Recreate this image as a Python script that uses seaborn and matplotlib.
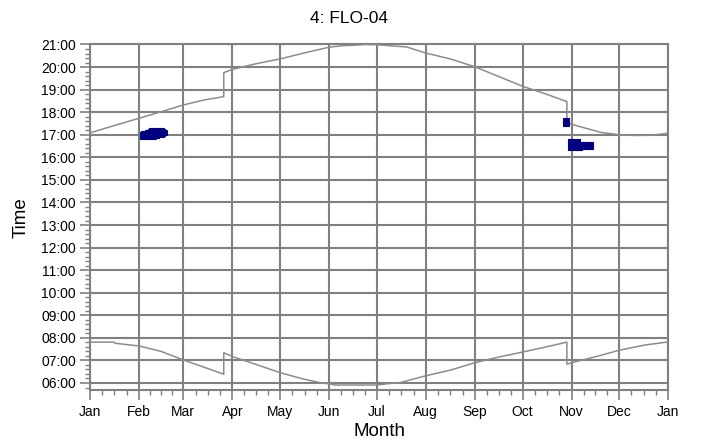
import matplotlib
matplotlib.use('Agg')
from matplotlib import pyplot as plt
import matplotlib.ticker as plticker
import seaborn as sns
import pandas as pd
import numpy as np

# day of year (Jan 1 = 0) and time of day in hours
sunset_day = [0, 16, 31, 45, 59, 72, 84.5, 84.5, 90, 105, 120, 135, 151, 160, 168, 173, 181,
              190, 200, 212, 228, 243, 258, 273, 288, 301, 301, 304, 315, 322, 334, 345, 355, 365]
sunset_hr = [17.08, 17.42, 17.73, 18.02, 18.32, 18.54, 18.69, 19.75, 19.90, 20.15, 20.36, 20.62,
             20.88, 20.95, 20.97, 21.0, 20.99, 20.94, 20.89, 20.62, 20.35, 20.01, 19.58, 19.15,
             18.80, 18.47, 17.55, 17.46, 17.25, 17.11, 17.0, 16.97, 16.98, 17.07]

sunrise_day = [0, 15, 16, 31, 45, 59, 72, 84.5, 84.5, 90, 105, 120, 135, 145, 151, 155, 181,
               188, 196, 212, 228, 243, 258, 273, 288, 301, 301, 304, 320, 334, 350, 365]
sunrise_hr = [7.81, 7.81, 7.76, 7.64, 7.40, 7.02, 6.70, 6.39, 7.34, 7.17, 6.82, 6.46, 6.17, 6.02,
              5.96, 5.91, 5.91, 5.97, 6.02, 6.32, 6.58, 6.90, 7.15, 7.37, 7.60, 7.81, 6.83, 6.90,
              7.18, 7.45, 7.68, 7.82]

# shadow periods: per day start / end time (hours)
shadow_day = list(range(32, 49)) + list(range(299, 303)) + list(range(302, 318))
shadow_start = [16.82, 16.82, 16.82, 16.82, 16.82, 16.82, 16.82, 16.82, 16.82, 16.82, 16.84,
                16.86, 16.88, 16.90, 16.92, 16.96, 17.00,
                17.40, 17.40, 17.40, 17.40,
                16.33, 16.33, 16.33, 16.33, 16.33, 16.33, 16.33, 16.33, 16.33,
                16.37, 16.37, 16.37, 16.37, 16.37, 16.37, 16.37]
shadow_end = [17.12, 17.15, 17.17, 17.20, 17.22, 17.25, 17.28, 17.30, 17.32, 17.32, 17.32,
              17.32, 17.31, 17.30, 17.28, 17.25, 17.20,
              17.73, 17.73, 17.73, 17.73,
              16.81, 16.81, 16.81, 16.81, 16.81, 16.81, 16.81, 16.81,
              16.70, 16.70, 16.70, 16.70, 16.70, 16.70, 16.70, 16.68]

month_start = [0, 31, 59, 90, 120, 151, 181, 212, 243, 273, 304, 334, 365]
month_labels = ['Jan', 'Feb', 'Mar', 'Apr', 'May', 'Jun', 'Jul', 'Aug', 'Sep', 'Oct', 'Nov',
                'Dec', 'Jan']
hour_ticks = list(range(6, 22))

sns.set_style('white')
plt.rcParams['font.family'] = ['Liberation Sans', 'DejaVu Sans']

grid_col = '#808080'
line_col = '#8c8c8c'

fig = plt.figure(figsize=(7.02, 4.48), dpi=100)
ax = fig.add_axes([0.128, 0.1295, 0.824, 0.7712])

df_set = pd.DataFrame({'day': sunset_day, 'hour': sunset_hr})
df_rise = pd.DataFrame({'day': sunrise_day, 'hour': sunrise_hr})
sns.lineplot(data=df_set, x='day', y='hour', estimator=None, sort=False,
             color=line_col, linewidth=1.1, ax=ax, zorder=3)
sns.lineplot(data=df_rise, x='day', y='hour', estimator=None, sort=False,
             color=line_col, linewidth=1.1, ax=ax, zorder=3)

lo = np.array(shadow_start)
hi = np.array(shadow_end)
ax.bar(shadow_day, hi - lo, bottom=lo, width=1.0, color='#000080', edgecolor='#000080',
       linewidth=0.8, zorder=4)

ax.set_xlim(0, 365)
ax.set_ylim(5.69, 21.0)

ax.set_xticks(month_start)
ax.set_xticklabels(month_labels)
minor_x = [m + (month_start[i + 1] - m) * q / 4.0
           for i, m in enumerate(month_start[:-1]) for q in (1, 2, 3)]
ax.set_xticks(minor_x, minor=True)
ax.set_yticks(hour_ticks)
ax.set_yticklabels(['{:02d}:00'.format(h) for h in hour_ticks])
ax.yaxis.set_minor_locator(plticker.MultipleLocator(0.2))

ax.grid(which='major', axis='both', color=grid_col, linewidth=1.5)
ax.set_axisbelow(True)
for sp in ax.spines.values():
    sp.set_color(grid_col)
    sp.set_linewidth(1.5)

ax.tick_params(axis='both', which='both', bottom=True, left=True, top=False, right=False)
ax.tick_params(axis='both', which='major', direction='out', length=7, width=1.2,
               color=grid_col, labelsize=10, labelcolor='black')
ax.tick_params(axis='both', which='minor', direction='out', length=3.6, width=1.0,
               color=grid_col)
ax.tick_params(axis='x', which='major', pad=4)
ax.tick_params(axis='y', which='major', pad=3)

ax.set_xlabel('Month', fontsize=13.5, labelpad=3, color='black')
ax.set_ylabel('Time', fontsize=13.5, labelpad=8, color='black')
fig.text(0.497, 0.958, '4: FLO-04', ha='center', va='center', fontsize=12.5, color='black')

fig.savefig('out.png', dpi=100)
